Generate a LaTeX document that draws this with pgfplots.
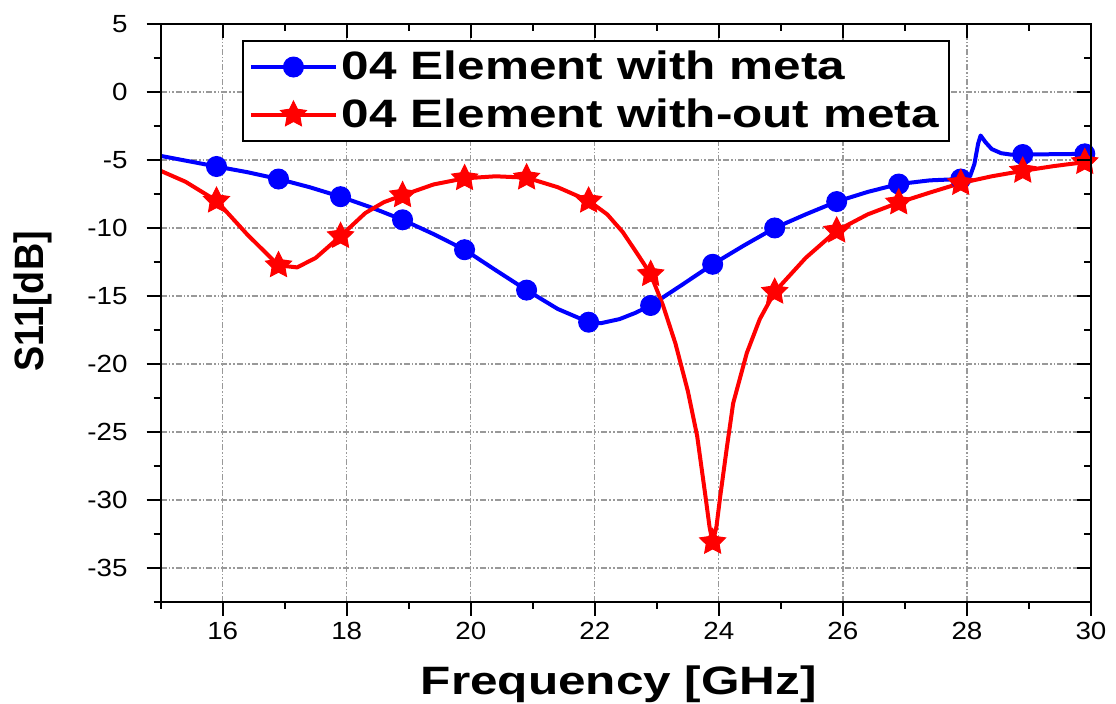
\documentclass[border=0pt]{standalone}
\usepackage{fontspec}
\setmainfont{Liberation Sans}[FakeStretch=1.12]
\newfontfamily\lblfont{Liberation Sans}[FakeStretch=1.25]
\newfontfamily\ylblfont{Liberation Sans}[FakeStretch=0.92]
\usepackage{pgfplots}
\pgfplotsset{compat=1.18}

% filled five-pointed star
\pgfdeclareplotmark{fstar}{%
  \pgfpathmoveto{\pgfpointpolar{90}{\pgfplotmarksize}}%
  \pgfpathlineto{\pgfpointpolar{126}{0.5\pgfplotmarksize}}%
  \pgfpathlineto{\pgfpointpolar{162}{\pgfplotmarksize}}%
  \pgfpathlineto{\pgfpointpolar{198}{0.5\pgfplotmarksize}}%
  \pgfpathlineto{\pgfpointpolar{234}{\pgfplotmarksize}}%
  \pgfpathlineto{\pgfpointpolar{270}{0.5\pgfplotmarksize}}%
  \pgfpathlineto{\pgfpointpolar{306}{\pgfplotmarksize}}%
  \pgfpathlineto{\pgfpointpolar{342}{0.5\pgfplotmarksize}}%
  \pgfpathlineto{\pgfpointpolar{18}{\pgfplotmarksize}}%
  \pgfpathlineto{\pgfpointpolar{54}{0.5\pgfplotmarksize}}%
  \pgfpathclose
  \pgfusepathqfillstroke}

\definecolor{sblue}{RGB}{0,0,255}
\definecolor{sred}{RGB}{255,0,0}

\begin{document}
\begin{tikzpicture}
\begin{axis}[
  name=ax,
  scale only axis,
  width=465.2pt, height=289pt,
  xmin=15, xmax=30, ymin=-37.5, ymax=5,
  xtick={16,18,...,30},
  minor xtick={15,17,...,29},
  ytick={-35,-30,...,5},
  minor ytick={-37.5,-32.5,...,2.5},
  xtick pos=bottom, ytick pos=left,
  tick align=outside,
  major tick length=7pt, minor tick length=3.5pt,
  every tick/.style={black, line width=1pt},
  axis line style={line width=1pt},
  grid=major,
  major grid style={gray!80, line width=0.6pt, dash pattern=on 3pt off 1pt on 0.8pt off 1pt on 0.8pt off 1pt},
  tick label style={font=\fontsize{12.4}{14}\selectfont},
  /pgf/number format/assume math mode=true,
  xticklabel style={anchor=base, yshift=-12pt},
  yticklabel style={anchor=east, xshift=-6pt},
  xlabel={Frequency [GHz]},
  ylabel={S11[dB]},
  every axis x label/.style={at={(rel axis cs:0.4926,0)}, yshift=-46.5pt, anchor=base,
    font=\lblfont\bfseries\fontsize{19.8}{22}\selectfont},
  every axis y label/.style={at={(rel axis cs:0,0.52)}, xshift=-64pt, rotate=90, anchor=center,
    font=\ylblfont\bfseries\fontsize{20.5}{22}\selectfont},
  legend cell align=left,
  legend style={at={(0.0874,0.972)}, anchor=north west, draw=black, line width=1pt,
    font=\lblfont\bfseries\fontsize{19.8}{22}\selectfont,
    inner xsep=3pt, inner ysep=3pt, row sep=4pt},
  legend image code/.code={\draw[mark repeat=2,mark phase=2,#1]
    plot coordinates {(0pt,0pt) (21.25pt,0pt) (42.5pt,0pt)};},
]
\addlegendimage{sblue, line width=2pt, mark=*, mark size=5pt, mark options={line width=0.5pt}}
\addlegendentry{04 Element with meta}
\addlegendimage{sred, line width=2pt, mark=fstar, mark size=6.8pt, mark options={line width=0.5pt}}
\addlegendentry{04 Element with-out meta}

% with meta: line
\addplot[sblue, line width=2pt, line join=round, forget plot] coordinates {
  (15.0,-4.7) (15.9,-5.48) (16.4,-5.9) (16.9,-6.4) (17.4,-7.0) (17.9,-7.7)
  (18.4,-8.5) (18.9,-9.4) (19.4,-10.45) (19.9,-11.6) (20.4,-13.1) (20.9,-14.57)
  (21.4,-15.95) (21.9,-16.93) (22.1,-17.0) (22.4,-16.7) (22.65,-16.25) (22.9,-15.7)
  (23.4,-14.2) (23.9,-12.67) (24.4,-11.3) (24.9,-10.0) (25.4,-9.0) (25.9,-8.06)
  (26.4,-7.35) (26.9,-6.77) (27.4,-6.5) (27.9,-6.4) (28.05,-6.2) (28.12,-5.3)
  (28.18,-3.8) (28.22,-3.2) (28.3,-3.7) (28.4,-4.2) (28.55,-4.5) (28.7,-4.6)
  (28.9,-4.6) (29.9,-4.55) (30.0,-4.55)
};
% with meta: markers
\addplot[sblue, only marks, mark=*, mark size=5pt, mark options={line width=0.5pt}, forget plot] coordinates {
  (15.9,-5.48) (16.9,-6.4) (17.9,-7.7) (18.9,-9.4) (19.9,-11.6) (20.9,-14.57)
  (21.9,-16.93) (22.9,-15.7) (23.9,-12.67) (24.9,-10.0) (25.9,-8.06) (26.9,-6.77)
  (27.9,-6.4) (28.9,-4.6) (29.9,-4.55)
};

% without meta: line
\addplot[sred, line width=2pt, line join=round, forget plot] coordinates {
  (15.0,-5.8) (15.4,-6.6) (15.9,-8.0) (16.4,-10.5) (16.9,-12.75) (17.2,-12.9)
  (17.5,-12.2) (17.9,-10.6) (18.3,-8.9) (18.6,-8.1) (18.9,-7.6) (19.4,-6.8)
  (19.9,-6.35) (20.4,-6.2) (20.9,-6.3) (21.4,-7.0) (21.9,-8.0) (22.2,-9.0)
  (22.45,-10.3) (22.7,-12.0) (22.9,-13.4) (23.1,-15.7) (23.3,-18.5) (23.5,-22.0)
  (23.65,-25.3) (23.78,-29.6) (23.85,-32.0) (23.9,-33.1) (23.96,-32.0) (24.02,-29.8)
  (24.13,-26.1) (24.23,-22.9) (24.45,-19.2) (24.66,-16.7) (24.9,-14.7) (25.4,-12.2)
  (25.9,-10.2) (26.4,-9.0) (26.9,-8.13) (27.4,-7.4) (27.9,-6.7) (28.4,-6.2)
  (28.9,-5.8) (29.4,-5.45) (29.9,-5.16) (30.0,-5.1)
};
% without meta: markers
\addplot[sred, only marks, mark=fstar, mark size=6.8pt, mark options={line width=0.5pt}, forget plot] coordinates {
  (15.9,-8.0) (16.9,-12.75) (17.9,-10.6) (18.9,-7.6) (19.9,-6.35) (20.9,-6.3)
  (21.9,-8.0) (22.9,-13.4) (23.9,-33.1) (24.9,-14.7) (25.9,-10.2) (26.9,-8.13)
  (27.9,-6.7) (28.9,-5.8) (29.9,-5.16)
};
\end{axis}
% mirrored ticks on top and right, pointing inward
\begin{axis}[
  scale only axis,
  width=465.2pt, height=289pt,
  xmin=15, xmax=30, ymin=-37.5, ymax=5,
  xtick={16,18,...,30},
  minor xtick={15,17,...,29},
  ytick={-35,-30,...,5},
  minor ytick={-37.5,-32.5,...,2.5},
  xtick pos=top, ytick pos=right,
  tick align=inside,
  major tick length=7pt, minor tick length=3.5pt,
  every tick/.style={black, line width=1pt},
  axis line style={line width=1pt},
  xticklabels={}, yticklabels={},
]
\end{axis}
\pgfresetboundingbox
\path ([shift={(-80.35pt,-51pt)}]ax.south west) rectangle ([shift={(12.5pt,12pt)}]ax.north east);
\end{tikzpicture}
\end{document}
